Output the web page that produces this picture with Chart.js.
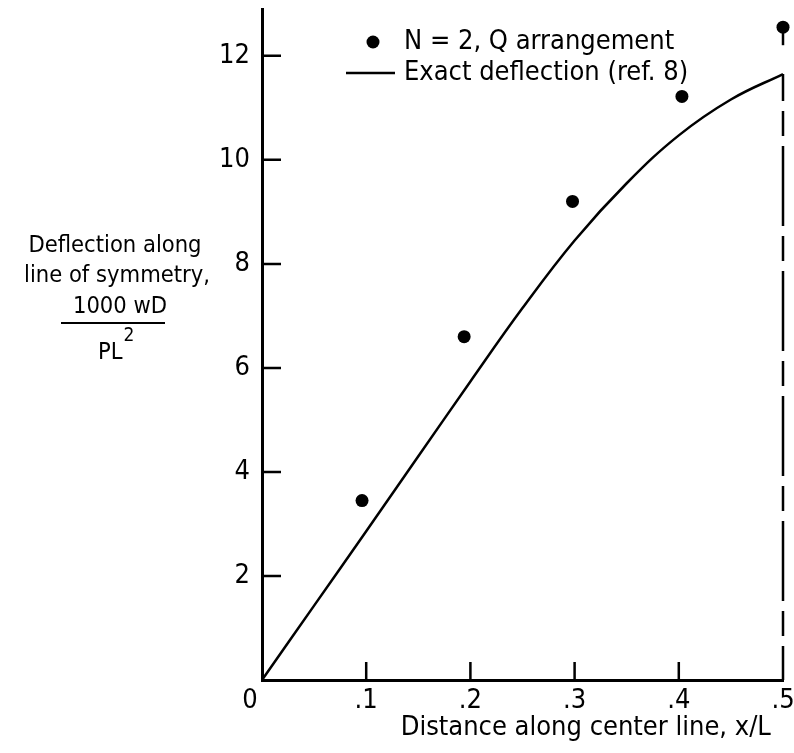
<!DOCTYPE html>
<html>
<head>
<meta charset="utf-8">
<script src="https://cdn.jsdelivr.net/npm/chart.js@4.4.1/dist/chart.umd.min.js"></script>
<style>
  html, body { margin: 0; padding: 0; background: #fff; }
  #wrap { width: 794px; height: 753px; }
</style>
</head>
<body>
<div id="wrap"><canvas id="deflectionChart"></canvas></div>
<script>
const FONT = "'DejaVu Sans Condensed', 'Liberation Sans Narrow', sans-serif";

// N = 2, Q arrangement
const pointX = [0.096, 0.194, 0.298, 0.403, 0.5];
const pointY = [3.45, 6.6, 9.2, 11.22, 12.55];

// exact deflection (ref. 8)
const exactX = [0, 0.05, 0.1, 0.15, 0.2, 0.25, 0.3, 0.35, 0.4, 0.45, 0.5];
const exactY = [0, 1.43, 2.86, 4.3, 5.74, 7.15, 8.45, 9.55, 10.47, 11.16, 11.65];

const xTicks = [0, 0.1, 0.2, 0.3, 0.4, 0.5];
const xTickLabels = ['0\u2002\u2002', '.1', '.2', '.3', '.4', '.5'];
const yTicks = [2, 4, 6, 8, 10, 12];

const legendLabels = ['N = 2, Q arrangement', 'Exact deflection (ref. 8)'];

const toXY = (xs, ys) => xs.map((x, i) => ({ x: x, y: ys[i] }));

// short tick marks pointing into the plot
const innerTicks = {
  id: 'innerTicks',
  afterDatasetsDraw(chart) {
    const { ctx, chartArea, scales } = chart;
    ctx.save();
    ctx.strokeStyle = '#000';
    ctx.lineWidth = 2.5;
    ctx.beginPath();
    xTicks.slice(1, -1).forEach(v => {
      const px = scales.x.getPixelForValue(v);
      ctx.moveTo(px, chartArea.bottom);
      ctx.lineTo(px, chartArea.bottom - 18);
    });
    yTicks.forEach(v => {
      const py = scales.y.getPixelForValue(v);
      ctx.moveTo(chartArea.left, py);
      ctx.lineTo(chartArea.left + 19, py);
    });
    ctx.stroke();

    // little stem under the end point
    const pts = chart.getDatasetMeta(0).data;
    const last = pts[pts.length - 1];
    ctx.beginPath();
    ctx.moveTo(last.x, last.y);
    ctx.lineTo(last.x, last.y + 18);
    ctx.stroke();
    ctx.restore();
  }
};

// key drawn inside the plot, top left
const keyBox = {
  id: 'keyBox',
  afterDraw(chart) {
    const { ctx, chartArea } = chart;
    const x0 = chartArea.left + 111;
    const y0 = chartArea.top + 33;
    ctx.save();
    ctx.fillStyle = '#000';
    ctx.strokeStyle = '#000';
    ctx.beginPath();
    ctx.arc(x0, y0, 6.5, 0, Math.PI * 2);
    ctx.fill();
    ctx.lineWidth = 2.5;
    ctx.beginPath();
    ctx.moveTo(x0 - 27, y0 + 31);
    ctx.lineTo(x0 + 22, y0 + 31);
    ctx.stroke();
    ctx.font = '27px ' + FONT;
    ctx.textBaseline = 'middle';
    ctx.textAlign = 'left';
    ctx.fillText(legendLabels[0], x0 + 31, y0);
    ctx.fillText(legendLabels[1], x0 + 31, y0 + 31);
    ctx.restore();
  }
};

// y axis caption with the 1000 wD / PL^2 fraction
const yCaption = {
  id: 'yCaption',
  afterDraw(chart) {
    const { ctx } = chart;
    ctx.save();
    ctx.fillStyle = '#000';
    ctx.strokeStyle = '#000';
    ctx.font = '23.5px ' + FONT;
    ctx.textAlign = 'center';
    ctx.textBaseline = 'middle';
    ctx.fillText('Deflection along', 115, 246);
    ctx.fillText('line of symmetry,', 117, 276);
    ctx.fillText('1000 wD', 120, 307);
    ctx.lineWidth = 2;
    ctx.beginPath();
    ctx.moveTo(61, 323);
    ctx.lineTo(165, 323);
    ctx.stroke();
    ctx.textAlign = 'left';
    ctx.fillText('PL', 98, 353);
    const w = ctx.measureText('PL').width;
    ctx.font = '19px ' + FONT;
    ctx.fillText('2', 98 + w + 1, 336);
    ctx.restore();
  }
};

new Chart(document.getElementById('deflectionChart'), {
  type: 'scatter',
  data: {
    datasets: [
      {
        label: legendLabels[0],
        data: toXY(pointX, pointY),
        pointRadius: 6.5,
        pointBackgroundColor: '#000',
        pointBorderWidth: 0,
        showLine: false,
        clip: false
      },
      {
        label: legendLabels[1],
        data: toXY(exactX, exactY),
        showLine: true,
        borderColor: '#000',
        borderWidth: 2.5,
        pointRadius: 0,
        tension: 0.4,
        clip: false
      },
      {
        // center line at x/L = .5
        label: 'center',
        data: [{ x: 0.5, y: exactY[exactY.length - 1] }, { x: 0.5, y: 0 }],
        showLine: true,
        borderColor: '#000',
        borderWidth: 2.5,
        borderDash: [80, 10, 25, 10],
        borderDashOffset: 53,
        pointRadius: 0,
        clip: false
      }
    ]
  },
  options: {
    responsive: true,
    maintainAspectRatio: false,
    animation: false,
    layout: { padding: { left: 0, right: 11, top: 9, bottom: 0 } },
    plugins: {
      legend: { display: false },
      tooltip: { enabled: false }
    },
    scales: {
      x: {
        type: 'linear',
        min: 0,
        max: 0.5,
        afterBuildTicks: s => { s.ticks = xTicks.map(v => ({ value: v })); },
        afterFit: s => { s.height = 73; s.paddingLeft = 0; s.paddingRight = 0; },
        grid: { display: false, drawTicks: false },
        border: { display: true, color: '#000', width: 3 },
        ticks: {
          padding: 5,
          color: '#000',
          font: { family: FONT, size: 27 },
          maxRotation: 0,
          callback: (v, i) => xTickLabels[i]
        },
        title: {
          display: true,
          text: 'Distance along center line, x/L\u2002',
          align: 'end',
          color: '#000',
          font: { family: FONT, size: 27 },
          padding: { top: 0, bottom: 9 }
        }
      },
      y: {
        type: 'linear',
        min: 0,
        max: 12.9,
        afterBuildTicks: s => { s.ticks = yTicks.map(v => ({ value: v })); },
        afterFit: s => { s.width = 262; s.paddingTop = 0; s.paddingBottom = 0; },
        grid: { display: false, drawTicks: false },
        border: { display: true, color: '#000', width: 3 },
        ticks: {
          padding: 12,
          color: '#000',
          font: { family: FONT, size: 27 },
          callback: v => String(v)
        }
      }
    }
  },
  plugins: [innerTicks, keyBox, yCaption]
});
</script>
</body>
</html>
